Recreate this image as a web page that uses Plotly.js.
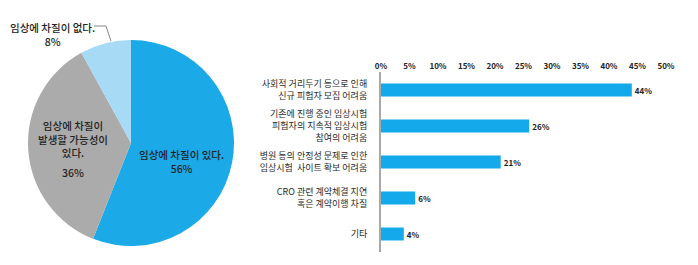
<!DOCTYPE html>
<html>
<head>
<meta charset="utf-8">
<script src="https://cdn.plot.ly/plotly-3.0.1.min.js"></script>
<style>html,body{margin:0;padding:0;background:#fff;}#chart{width:698px;height:265px;}</style>
</head>
<body>
<div id="chart"></div>
<script>
// Pie data
var pieLabels = ['임상에 차질이 있다.', '임상에 차질이<br>발생할 가능성이<br>있다.', '임상에 차질이 없다.'];
var pieValues = [56, 36, 8];
var pieColors = ['#1ba9e8', '#ababab', '#a7dbf5'];

// Bar data
var barCategories = [
  '사회적 거리두기 등으로 인해<br>신규 피험자 모집 어려움',
  '기존에 진행 중인 임상시험<br>피험자의 지속적 임상시험<br>참여의 어려움',
  '병원 등의 안정성 문제로 인한<br>임상시험  사이트 확보 어려움',
  'CRO 관련 계약체결 지연<br>혹은 계약이행 차질',
  '기타'
];
var barValues = [44, 26, 21, 6, 4];
var xTickVals = [0, 5, 10, 15, 20, 25, 30, 35, 40, 45, 50];

var W = 698, H = 265;
function px(x){ return x / W; }
function py(y){ return 1 - y / H; }

var FONT = '"Noto Sans CJK KR", "Noto Sans", sans-serif';

var pie = {
  type: 'pie',
  values: pieValues,
  labels: pieLabels,
  sort: false,
  direction: 'clockwise',
  rotation: 0,
  textinfo: 'none',
  hoverinfo: 'none',
  marker: {colors: pieColors, line: {color: '#ffffff', width: 0}},
  domain: {x: [px(28), px(234)], y: [py(246), py(40)]},
  showlegend: false
};

var bar = {
  type: 'bar',
  orientation: 'h',
  x: barValues,
  y: barCategories,
  width: 0.36,
  marker: {color: '#14a9ea'},
  text: barValues.map(function(v){ return v + '%'; }),
  textposition: 'outside',
  cliponaxis: false,
  textfont: {family: FONT, size: 8, color: '#222', weight: 'bold'},
  hoverinfo: 'none',
  xaxis: 'x', yaxis: 'y',
  showlegend: false
};

var annColor = '#222';
var annotations = [
  {x: px(181), y: py(161), text: pieLabels[0] + '<br>' + pieValues[0] + '%'},
  {x: px(73), y: py(139), text: pieLabels[1]},
  {x: px(73), y: py(172), text: pieValues[1] + '%'},
  {x: px(52), y: py(35), text: pieLabels[2] + '<br>' + pieValues[2] + '%'}
].map(function(a){
  return {x: a.x, y: a.y, xref: 'paper', yref: 'paper', text: a.text, showarrow: false,
          xanchor: 'center', yanchor: 'middle', align: 'center',
          font: {family: FONT, size: 10.5, color: annColor, weight: 500}};
});

var layout = {
  width: W, height: H,
  margin: {l: 0, r: 0, t: 0, b: 0},
  paper_bgcolor: '#ffffff',
  plot_bgcolor: 'rgba(0,0,0,0)',
  font: {family: FONT, color: '#333'},
  xaxis: {
    domain: [px(381), px(666)],
    range: [0, 50],
    side: 'top',
    tickvals: xTickVals,
    ticktext: xTickVals.map(function(v){ return v + '%'; }),
    tickfont: {family: FONT, size: 8, color: '#222', weight: 'bold'},
    showgrid: false, zeroline: false, showline: false,
    ticks: '', ticklen: 0,
    anchor: 'y'
  },
  yaxis: {
    domain: [py(252), py(72)],
    type: 'category',
    range: [4.5, -0.5],
    showgrid: false, zeroline: false,
    showline: true, linecolor: '#a8a8a8', linewidth: 2,
    ticks: '', ticklabelstandoff: 10,
    tickfont: {family: FONT, size: 9, color: '#2a2a2a'},
    anchor: 'x'
  },
  annotations: annotations,
  shapes: [{
    type: 'path', xref: 'paper', yref: 'paper',
    path: 'M ' + px(94) + ' ' + py(26) + ' L ' + px(106) + ' ' + py(26) + ' L ' + px(111) + ' ' + py(41),
    line: {color: '#888', width: 1}
  }]
};

Plotly.newPlot('chart', [pie, bar], layout, {staticPlot: true, displayModeBar: false});
</script>
</body>
</html>
